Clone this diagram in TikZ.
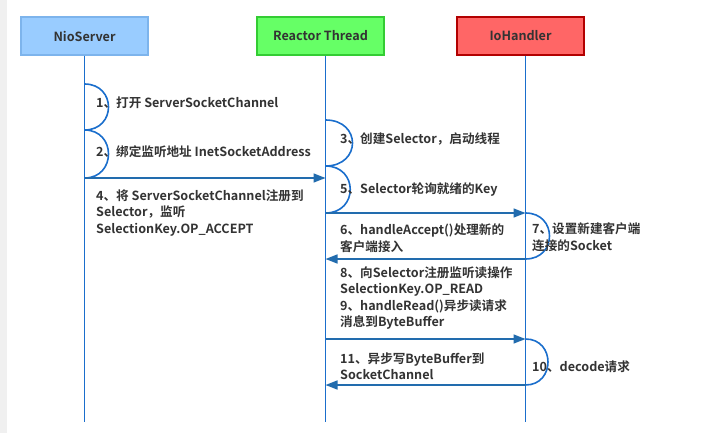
\documentclass[tikz,border=0pt]{standalone}
\usepackage{fontspec}
\setmainfont{Noto Sans CJK SC}[BoldFont={Noto Sans CJK SC Bold}]
\usepackage{tikz}
\usetikzlibrary{arrows.meta,calc}

\definecolor{lifeblue}{HTML}{1A6ECC}
\definecolor{msgblue}{HTML}{226CAE}
\definecolor{txtgray}{HTML}{333333}
\definecolor{nioFill}{HTML}{99CCFF}
\definecolor{nioLine}{HTML}{7DB4EC}
\definecolor{reaFill}{HTML}{66FF66}
\definecolor{reaLine}{HTML}{33CC33}
\definecolor{ioFill}{HTML}{FF6666}
\definecolor{ioLine}{HTML}{B20000}

\tikzset{
  head/.style={minimum width=127pt,minimum height=38pt,line width=1.2pt,
    font=\bfseries\fontsize{12.6}{14}\selectfont,text=txtgray},
  life/.style={draw=lifeblue,line width=1.6pt},
  msg/.style={draw=msgblue,line width=1.6pt,-{Triangle[length=12pt,width=9pt]},
    color=msgblue},
  note/.style={inner sep=0pt,anchor=west,text=txtgray,align=left,
    font=\bfseries\fontsize{12.6}{16.5}\selectfont},
}

\begin{document}
\begin{tikzpicture}[x=1pt,y=-1pt]
    \useasboundingbox (0,0) rectangle (717,433);
    \fill[white] (0,0) rectangle (717,433);
    \fill[black!6] (0,0) rectangle (7,433);

    \node[head,draw=nioLine,fill=nioFill] (nio) at (84.5,36) {NioServer};
    \node[head,draw=reaLine,fill=reaFill] (reactor) at (320.5,36) {Reactor Thread};
    \node[head,draw=ioLine,fill=ioFill] (io) at (520.5,36) {IoHandler};

    \coordinate (nTop) at (nio.south);
    \coordinate (rTop) at ($ (reactor.south) + (5,0) $);
    \coordinate (iTop) at ($ (io.south) + (5,0) $);

    % points on the lifelines
    \foreach \k/\y in {a/84, b/130, c/178, z/422} {
      \coordinate (n\k) at (nTop |- 0,\y);
    }
    \foreach \k/\y in {a/120, b/166, c/178, d/213, e/259, f/339, g/385, z/422} {
      \coordinate (r\k) at (rTop |- 0,\y);
    }
    \foreach \k/\y in {d/213, e/259, f/339, g/385, z/422} {
      \coordinate (i\k) at (iTop |- 0,\y);
    }

    \draw[life] (nTop) -- (nz);
    \draw[life] (rTop) -- (rz);
    \draw[life] (iTop) -- (iz);

    % self calls
    \foreach \p/\q/\w in {na/nb/32, nb/nc/32, ra/rb/36, rb/rd/33, id/ie/32, if/ig/30} {
      \draw[life] (\p) .. controls +(\w,0) and +(\w,0) .. (\q);
    }

    % messages
    \draw[msg] (nc) -- (rc);
    \draw[msg] (rd) -- (id);
    \draw[msg] (ie) -- (re);
    \draw[msg] (rf) -- (if);
    \draw[msg] (ig) -- (rg);

    \node[note] (t1) at (96,103) {1、打开 ServerSocketChannel};
    \node[note] (t2) at (96,152) {2、绑定监听地址 InetSocketAddress};
    \node[note] (t3) at (340,139) {3、创建Selector，启动线程};
    \node[note] (t5) at (340,190) {5、Selector轮询就绪的Key};
    \node[note] (t4) at (96,213) {4、将 ServerSocketChannel注册到\\Selector，监听\\SelectionKey.OP\_ACCEPT};
    \node[note] (t6) at (340,238) {6、handleAccept()处理新的\\客户端接入};
    \node[note] (t7) at (532,237) {7、设置新建客户端\\连接的Socket};
    \node[note] (t8) at (340,298) {8、向Selector注册监听读操作\\SelectionKey.OP\_READ\\9、handleRead()异步读请求\\消息到ByteBuffer};
    \node[note] (t11) at (340,366) {11、异步写ByteBuffer到\\SocketChannel};
    \node[note] (t10) at (532,367) {10、decode请求};

  \end{tikzpicture}
\end{document}
